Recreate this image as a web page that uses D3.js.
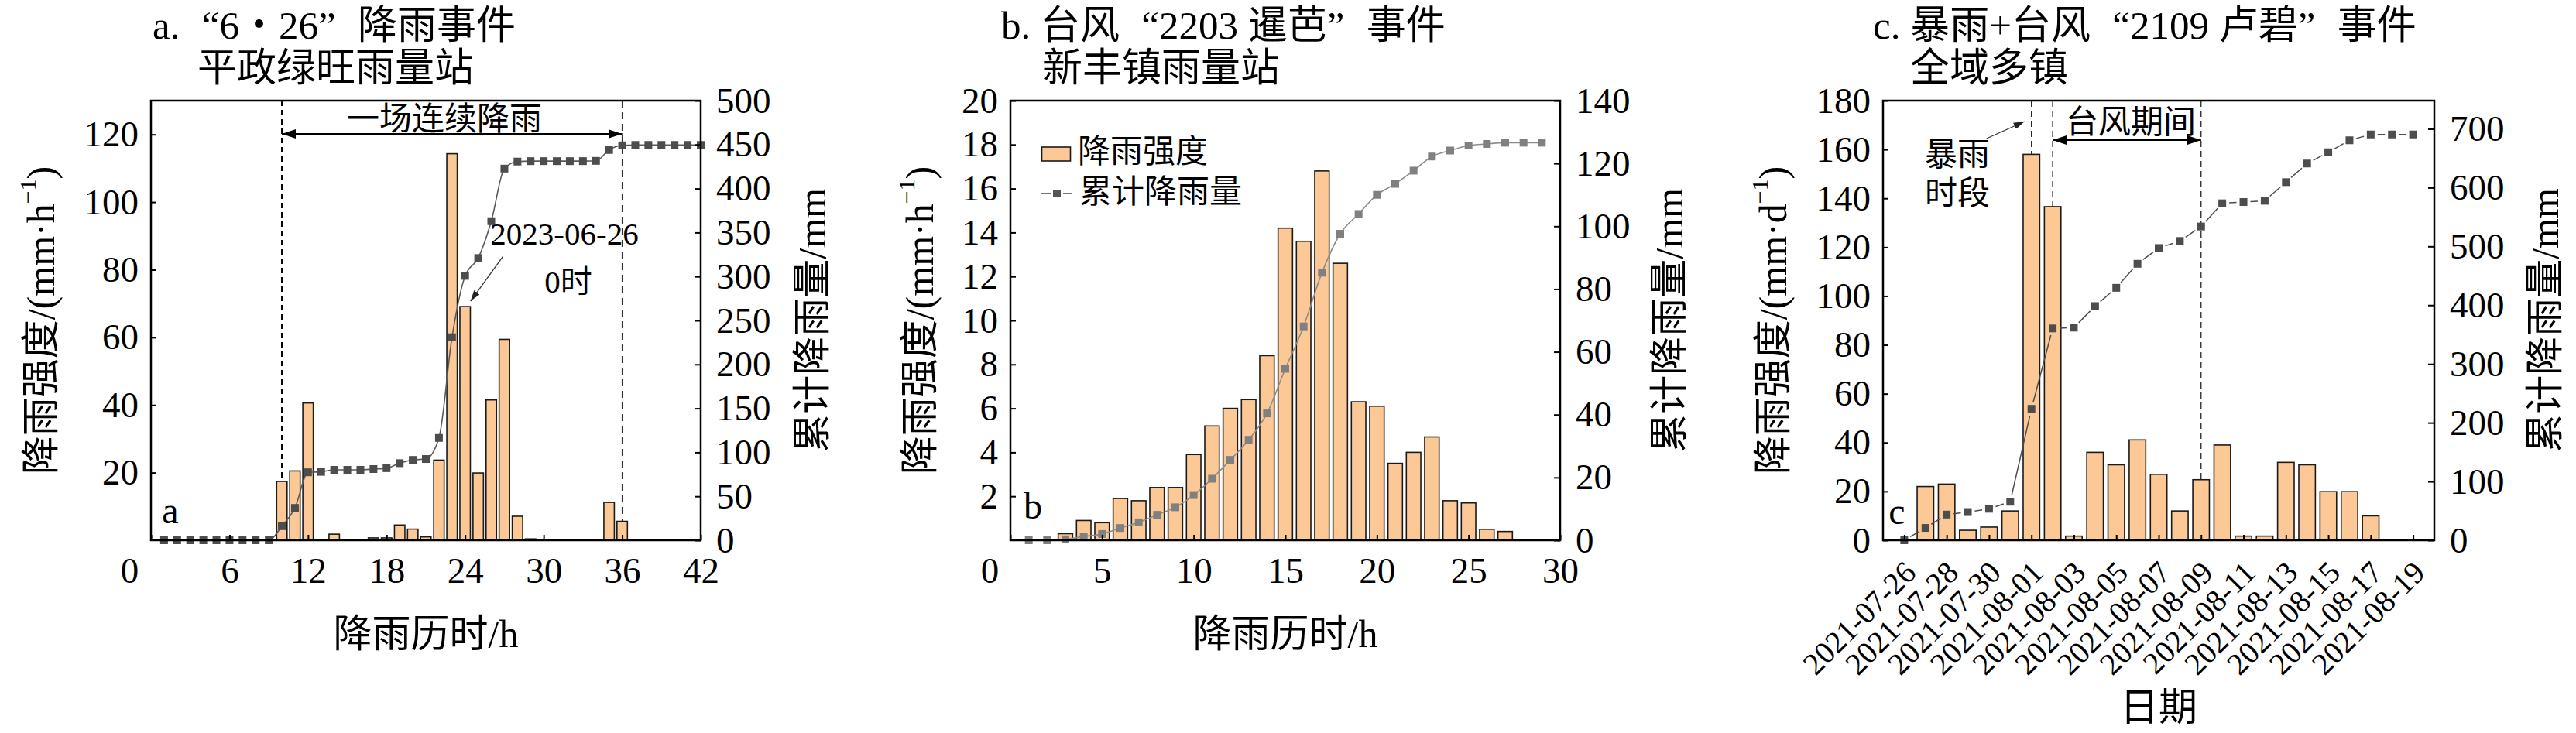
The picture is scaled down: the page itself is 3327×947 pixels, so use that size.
<!DOCTYPE html>
<html>
<head>
<meta charset="utf-8">
<script src="https://cdn.jsdelivr.net/npm/d3@7"></script>
<style>
  body { margin: 0; background: #fff; }
</style>
</head>
<body>
<div id="chart"></div>
<script>
// ---- panel a: "6·26" event, hourly rain at 平政绿旺 station ----
const aHours = [10, 11, 12, 14, 17, 18, 19, 20, 21, 22, 23, 24, 25, 26, 27, 28, 29, 34, 35, 36];
const aRain = [17.4, 20.5, 40.6, 1.8, 0.7, 0.7, 4.5, 3.3, 1.0, 23.7, 114.3, 69.1, 19.9, 41.5, 59.4, 7.1, 0.4, 0.25, 11.2, 5.6];
const aCumHours = [1, 2, 3, 4, 5, 6, 7, 8, 9, 10, 11, 12, 13, 14, 15, 16, 17, 18, 19, 20, 21,
                   22, 23, 24, 25, 26, 27, 28, 29, 30, 31, 32, 33, 34, 35, 36, 37, 38, 39, 40, 41, 42];
const aCum = [0, 0, 0, 0, 0, 0, 0, 0, 0, 16.0, 36.8, 77.3, 77.8, 80.1, 80.1, 80.1, 81.0, 82.0, 87.7, 91.4, 92.4,
              116.4, 230.9, 300.7, 321.0, 362.9, 422.7, 430.7, 431.2, 431.2, 431.2, 431.2, 431.2, 431.5, 443.9, 449.1,
              449.6, 449.6, 449.6, 449.6, 449.6, 449.6];
const aXTicks = [0, 6, 12, 18, 24, 30, 36, 42];
const aLeftTicks = [20, 40, 60, 80, 100, 120];
const aRightTicks = [0, 50, 100, 150, 200, 250, 300, 350, 400, 450, 500];

// ---- panel b: typhoon 2203, hourly rain at 新丰镇 station ----
const bHours = [3, 4, 5, 6, 7, 8, 9, 10, 11, 12, 13, 14, 15, 16, 17, 18, 19, 20, 21, 22, 23, 24, 25, 26, 27];
const bRain = [0.3, 0.9, 0.8, 1.9, 1.8, 2.4, 2.4, 3.9, 5.2, 6.0, 6.4, 8.4, 14.2, 13.6, 16.8, 12.6, 6.3, 6.1, 3.5, 4.0, 4.7, 1.8, 1.7, 0.5, 0.4];
const bCumHours = [1, 2, 3, 4, 5, 6, 7, 8, 9, 10, 11, 12, 13, 14, 15, 16, 17, 18, 19, 20, 21, 22, 23, 24, 25, 26, 27, 28, 29];
const bCum = [0, 0, 0.3, 1.2, 2.0, 3.9, 5.7, 8.1, 10.5, 14.4, 19.6, 25.6, 32.0, 40.4, 54.6, 68.1, 85.2, 97.6,
              103.9, 110.0, 113.5, 117.7, 122.2, 124.1, 125.7, 126.2, 126.6, 126.6, 126.6];
const bXTicks = [0, 5, 10, 15, 20, 25, 30];
const bLeftTicks = [2, 4, 6, 8, 10, 12, 14, 16, 18, 20];
const bRightTicks = [0, 20, 40, 60, 80, 100, 120, 140];

// ---- panel c: rainstorm + typhoon 2109, daily rain over the county ----
const cDates = ["2021-07-26", "2021-07-27", "2021-07-28", "2021-07-29", "2021-07-30", "2021-07-31", "2021-08-01",
                "2021-08-02", "2021-08-03", "2021-08-04", "2021-08-05", "2021-08-06", "2021-08-07", "2021-08-08",
                "2021-08-09", "2021-08-10", "2021-08-11", "2021-08-12", "2021-08-13", "2021-08-14", "2021-08-15",
                "2021-08-16", "2021-08-17", "2021-08-18", "2021-08-19"];
const cRain = [0, 22, 23, 4.1, 5.4, 12, 158, 136.6, 1.7, 36, 30.9, 41.1, 27, 12, 24.8, 39, 1.7, 1.7, 31.9, 30.9, 19.9, 19.9, 10, 0, 0];
const cCum = [0, 21, 43.7, 48, 53.6, 65.6, 223.6, 360.4, 361.8, 398.4, 429.5, 470.4, 497.2, 509.2, 533.8, 573.3,
              575.5, 577.6, 609.3, 641, 660.1, 680.5, 690.4, 690.4, 690.4];
const cXTicks = ["2021-07-26", "2021-07-28", "2021-07-30", "2021-08-01", "2021-08-03", "2021-08-05", "2021-08-07",
                 "2021-08-09", "2021-08-11", "2021-08-13", "2021-08-15", "2021-08-17", "2021-08-19"];
const cLeftTicks = [0, 20, 40, 60, 80, 100, 120, 140, 160, 180];
const cRightTicks = [0, 100, 200, 300, 400, 500, 600, 700];

// ---- layout ----
const width = 3327;
const height = 947;
const plotTop = 130, plotBottom = 698;
const FONT = "'Liberation Serif', 'Noto Sans CJK SC', serif";
const barFill = "#fcc896";

const svg = d3.select("#chart")
    .append("svg")
    .attr("width", width)
    .attr("height", height)
    .style("font-family", FONT)
    .style("background", "#fff");

// arrow heads
const defs = svg.append("defs");
defs.append("marker")
    .attr("id", "headBig").attr("viewBox", "0 0 18 12")
    .attr("markerWidth", 18).attr("markerHeight", 12)
    .attr("refX", 18).attr("refY", 6)
    .attr("markerUnits", "userSpaceOnUse")
    .attr("orient", "auto-start-reverse")
    .append("path").attr("d", "M0,0 L18,6 L0,12 Z").attr("fill", "#000");
defs.append("marker")
    .attr("id", "headSmall").attr("viewBox", "0 0 14 9")
    .attr("markerWidth", 14).attr("markerHeight", 9)
    .attr("refX", 14).attr("refY", 4.5)
    .attr("markerUnits", "userSpaceOnUse")
    .attr("orient", "auto")
    .append("path").attr("d", "M0,0 L14,4.5 L0,9 Z").attr("fill", "#222");

function styleAxis(g, size) {
    g.attr("font-family", null).attr("font-size", null);
    g.select(".domain").remove();
    g.selectAll(".tick line").attr("stroke", "#000").attr("stroke-width", 2);
    g.selectAll(".tick text").attr("fill", "#000").attr("font-size", size || 47);
}

function addAxes(x, yL, yR, xTicks, lTicks, rTicks, xSize) {
    const [left, right] = x.range();
    const gx = svg.append("g")
        .attr("transform", `translate(0,${plotBottom})`)
        .call(d3.axisBottom(x).tickValues(xTicks).tickSize(-7).tickPadding(22))
        .call(styleAxis, xSize);
    svg.append("g")
        .attr("transform", `translate(${left},0)`)
        .call(d3.axisLeft(yL).tickValues(lTicks).tickSize(-7).tickPadding(16))
        .call(styleAxis);
    svg.append("g")
        .attr("transform", `translate(${right},0)`)
        .call(d3.axisRight(yR).tickValues(rTicks).tickSize(-8).tickPadding(20))
        .call(styleAxis);
    svg.append("rect")
        .attr("x", left).attr("y", plotTop)
        .attr("width", right - left).attr("height", plotBottom - plotTop)
        .attr("fill", "none").attr("stroke", "#000").attr("stroke-width", 2.5);
    return gx;
}

function bars(x, y, keys, vals, w) {
    svg.append("g").selectAll("rect")
        .data(keys.map((k, i) => ({ k, v: vals[i] })).filter(d => d.v > 0))
        .join("rect")
        .attr("x", d => x(d.k) - w / 2)
        .attr("y", d => y(d.v))
        .attr("width", w)
        .attr("height", d => y(0) - y(d.v))
        .attr("fill", barFill)
        .attr("stroke", "#1a1a1a")
        .attr("stroke-width", 1.6);
}

function markers(x, y, keys, vals, color) {
    svg.append("g").selectAll("rect")
        .data(keys.map((k, i) => [x(k), y(vals[i])]))
        .join("rect")
        .attr("x", d => d[0] - 5).attr("y", d => d[1] - 5)
        .attr("width", 10).attr("height", 10)
        .attr("fill", color);
}

function vDash(x, y1, y2, w, dash, color) {
    svg.append("line")
        .attr("x1", x).attr("x2", x).attr("y1", y1).attr("y2", y2)
        .attr("stroke", color || "#000").attr("stroke-width", w).attr("stroke-dasharray", dash);
}

function label(x, y, txt, size, anchor, base) {
    return svg.append("text")
        .attr("x", x).attr("y", y)
        .attr("font-size", size)
        .attr("text-anchor", anchor || "middle")
        .attr("dominant-baseline", base || "auto")
        .text(txt);
}

// title with full-width style quotes
function title(x, y, parts) {
    const t = svg.append("text").attr("x", x).attr("y", y).attr("font-size", 51);
    parts.forEach(p => {
        t.append("tspan").attr("dx", p.dx || 0).text(p.t);
    });
    return t;
}

function yTitle(cx, unit, sup) {
    const t = svg.append("text")
        .attr("transform", `translate(${cx},${(plotTop + plotBottom) / 2}) rotate(-90)`)
        .attr("font-size", 50)
        .attr("text-anchor", "middle")
        .attr("dominant-baseline", "central");
    t.append("tspan").text(unit);
    if (sup) {
        t.append("tspan").attr("font-size", 30).attr("dy", -18).text(sup);
        t.append("tspan").attr("dy", 18).text(")");
    }
}

// ================= panel a =================
const xA = d3.scaleLinear().domain([0, 42]).range([195, 905]);
const yAL = d3.scaleLinear().domain([0, 130]).range([plotBottom, plotTop]);
const yAR = d3.scaleLinear().domain([0, 500]).range([plotBottom, plotTop]);

vDash(xA(10), plotTop, plotBottom, 2, "7,5", "#000");
vDash(xA(36), plotTop, plotBottom, 1.3, "9,6", "#333");
bars(xA, yAL, aHours, aRain, 13.5);
svg.append("path")
    .datum(aCumHours.map((h, i) => [xA(h), yAR(aCum[i])]))
    .attr("d", d3.line().curve(d3.curveMonotoneX))
    .attr("fill", "none").attr("stroke", "#5a5a5a").attr("stroke-width", 1.6);
markers(xA, yAR, aCumHours, aCum, "#4d4d4d");

const gxA = addAxes(xA, yAL, yAR, aXTicks, aLeftTicks, aRightTicks);
gxA.selectAll(".tick text").filter(d => d === 0).attr("dx", -28);

svg.append("line")
    .attr("x1", xA(10)).attr("x2", xA(36)).attr("y1", 173).attr("y2", 173)
    .attr("stroke", "#000").attr("stroke-width", 2)
    .attr("marker-start", "url(#headBig)").attr("marker-end", "url(#headBig)");
label(574, 154, "一场连续降雨", 42, "middle", "central");
label(729, 316, "2023-06-26", 41);
label(734, 364, "0时", 41, "middle", "central");
svg.append("line")
    .attr("x1", xA(24) + 49).attr("y1", yAL(69.1) - 65)
    .attr("x2", xA(24) + 7).attr("y2", yAL(69.1) - 7)
    .attr("stroke", "#333").attr("stroke-width", 1.3)
    .attr("marker-end", "url(#headSmall)");
label(220, 676, "a", 48);

title(197, 50, [{ t: "a." }, { t: "“", dx: "0.556em" }, { t: "6" }, { t: "・" }, { t: "26" }, { t: "”" }, { t: "降雨事件", dx: "0.556em" }]);
title(255, 105, [{ t: "平政绿旺雨量站" }]);
label(550, 836, "降雨历时/h", 50);
yTitle(52.5, "降雨强度/(mm·h", "−1");
yTitle(1049, "累计降雨量/mm");

// ================= panel b =================
const xB = d3.scaleLinear().domain([0, 30]).range([1305, 2015]);
const yBL = d3.scaleLinear().domain([0, 20]).range([plotBottom, plotTop]);
const yBR = d3.scaleLinear().domain([0, 140]).range([plotBottom, plotTop]);

bars(xB, yBL, bHours, bRain, 18.7);
svg.append("path")
    .datum(bCumHours.map((h, i) => [xB(h), yBR(bCum[i])]))
    .attr("d", d3.line().curve(d3.curveMonotoneX))
    .attr("fill", "none").attr("stroke", "#8c8c8c").attr("stroke-width", 1.6);
markers(xB, yBR, bCumHours, bCum, "#808080");

const gxB = addAxes(xB, yBL, yBR, bXTicks, bLeftTicks, bRightTicks);
gxB.selectAll(".tick text").filter(d => d === 0).attr("dx", -27);

// legend
svg.append("rect").attr("x", 1345.5).attr("y", 190).attr("width", 37).attr("height", 18)
    .attr("fill", barFill).attr("stroke", "#1a1a1a").attr("stroke-width", 1.6);
label(1392, 196, "降雨强度", 42, "start", "central");
svg.append("line").attr("x1", 1345).attr("x2", 1357).attr("y1", 250).attr("y2", 250)
    .attr("stroke", "#555").attr("stroke-width", 1.6);
svg.append("line").attr("x1", 1373).attr("x2", 1385).attr("y1", 250).attr("y2", 250)
    .attr("stroke", "#555").attr("stroke-width", 1.6);
svg.append("rect").attr("x", 1360).attr("y", 245).attr("width", 10).attr("height", 10).attr("fill", "#555");
label(1394, 248, "累计降雨量", 42, "start", "central");
label(1334, 670, "b", 48);

title(1293, 50, [{ t: "b. 台风" }, { t: "“", dx: "0.556em" }, { t: "2203 暹芭" }, { t: "”" }, { t: "事件", dx: "0.556em" }]);
title(1347, 105, [{ t: "新丰镇雨量站" }]);
label(1660, 836, "降雨历时/h", 50);
yTitle(1187.7, "降雨强度/(mm·h", "−1");
yTitle(2155.6, "累计降雨量/mm");

// ================= panel c =================
const xC = d3.scalePoint().domain(cDates).range([2432, 3144]).padding(1);
const yCL = d3.scaleLinear().domain([0, 180]).range([plotBottom, plotTop]);
const yCR = d3.scaleLinear().domain([0, 748]).range([plotBottom, plotTop]);

vDash(xC("2021-08-01"), plotTop, plotBottom, 1.3, "8,5", "#222");
vDash(xC("2021-08-02"), plotTop, plotBottom, 1.3, "8,5", "#222");
vDash(xC("2021-08-09"), plotTop, plotBottom, 1.3, "8,5", "#222");
bars(xC, yCL, cDates, cRain, 21.4);

// straight segments with a small gap at each marker
const cPts = cDates.map((d, i) => [xC(d), yCR(cCum[i])]);
svg.append("g").selectAll("line")
    .data(d3.pairs(cPts))
    .join("line")
    .each(function ([p, q]) {
        const dx = q[0] - p[0], dy = q[1] - p[1];
        const len = Math.hypot(dx, dy), g = Math.min(9, len / 2 - 1) / len;
        d3.select(this)
            .attr("x1", p[0] + dx * g).attr("y1", p[1] + dy * g)
            .attr("x2", q[0] - dx * g).attr("y2", q[1] - dy * g);
    })
    .attr("stroke", "#4d4d4d").attr("stroke-width", 1.5);
markers(xC, yCR, cDates, cCum, "#4d4d4d");

const gxC = addAxes(xC, yCL, yCR, cXTicks, cLeftTicks, cRightTicks, 40);
gxC.selectAll(".tick text")
    .attr("x", 0).attr("y", 0).attr("dy", 0)
    .attr("text-anchor", "end")
    .attr("transform", "translate(17,44) rotate(-45)");

svg.append("line")
    .attr("x1", xC("2021-08-02")).attr("x2", xC("2021-08-09")).attr("y1", 181).attr("y2", 181)
    .attr("stroke", "#000").attr("stroke-width", 2)
    .attr("marker-start", "url(#headBig)").attr("marker-end", "url(#headBig)");
label(2752, 158, "台风期间", 42, "middle", "central");
label(2528, 200, "暴雨", 42, "middle", "central");
label(2528, 250, "时段", 42, "middle", "central");
svg.append("line")
    .attr("x1", xC("2021-08-01") - 58).attr("y1", 179)
    .attr("x2", xC("2021-08-01") - 9).attr("y2", 157)
    .attr("stroke", "#333").attr("stroke-width", 1.3)
    .attr("marker-end", "url(#headSmall)");
label(2450, 677, "c", 48);

title(2419, 50, [{ t: "c. 暴雨+台风" }, { t: "“", dx: "0.556em" }, { t: "2109 卢碧" }, { t: "”" }, { t: "事件", dx: "0.556em" }]);
title(2467, 105, [{ t: "全域多镇" }]);
label(2788, 931, "日期", 50);
yTitle(2290, "降雨强度/(mm·d", "−1");
yTitle(3287, "累计降雨量/mm");
</script>
</body>
</html>
